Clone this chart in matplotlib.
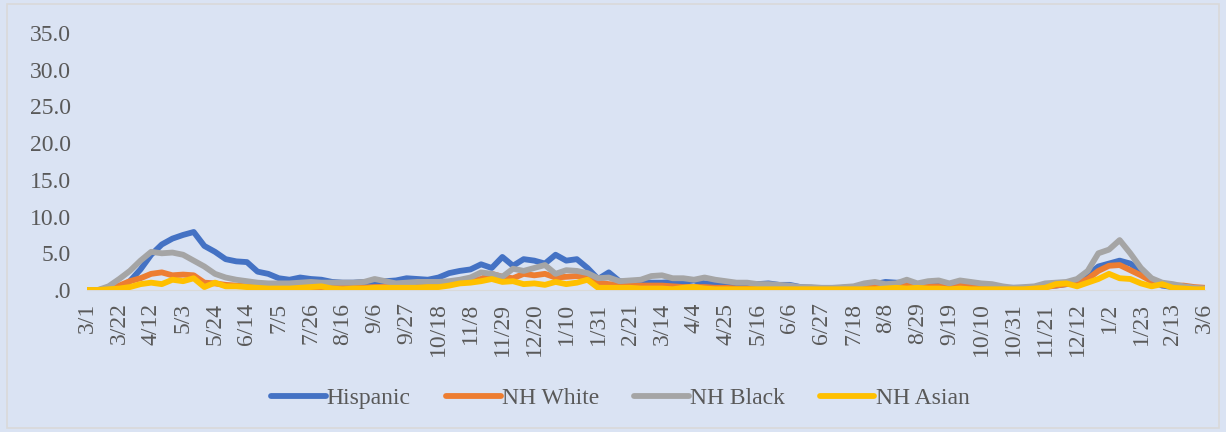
import matplotlib

matplotlib.use("Agg")
import matplotlib.pyplot as plt
import pandas as pd
from matplotlib.patches import Rectangle
from matplotlib.ticker import FuncFormatter

# Weekly readings, 3/1/2020 .. 3/6/2022 (106 weeks)
START = "2020-03-01"
N_WEEKS = 106

hispanic = [
    0, 0, 0.1, 0.3, 1.2, 2.8, 4.8, 6.2, 7.0, 7.5,
    7.9, 6.0, 5.2, 4.2, 3.9, 3.8, 2.5, 2.2, 1.6, 1.4,
    1.7, 1.5, 1.4, 1.1, 1.0, 1.0, 1.1, 1.1, 1.2, 1.3,
    1.6, 1.5, 1.4, 1.7, 2.3, 2.6, 2.8, 3.5, 3.0, 4.5,
    3.3, 4.2, 4.0, 3.6, 4.8, 4.0, 4.2, 3.0, 1.5, 2.4,
    1.2, 1.0, 1.1, 1.0, 1.0, 1.1, 1.1, 1.3, 0.9, 0.9,
    0.8, 0.8, 0.8, 0.8, 0.9, 0.7, 0.7, 0.4, 0.3, 0.2,
    0.2, 0.3, 0.4, 0.6, 0.8, 1.1, 1.0, 1.0, 0.8, 0.9,
    0.9, 0.8, 1.0, 1.0, 0.6, 0.4, 0.3, 0.3, 0.3, 0.4,
    0.6, 0.6, 0.8, 1.0, 2.0, 3.2, 3.6, 4.0, 3.6, 2.6,
    1.2, 0.6, 0.4, 0.3, 0.2, 0.1,
]
nh_white = [
    0, 0, 0.2, 0.6, 1.2, 1.6, 2.2, 2.4, 2.0, 2.1,
    2.0, 1.0, 0.9, 0.7, 0.6, 0.5, 0.4, 0.4, 0.3, 0.3,
    0.3, 0.3, 0.3, 0.3, 0.3, 0.3, 0.3, 0.4, 0.4, 0.4,
    0.5, 0.5, 0.5, 0.6, 0.8, 1.0, 1.3, 1.5, 2.2, 1.8,
    1.6, 2.2, 2.0, 2.2, 1.7, 1.8, 1.9, 1.8, 1.0, 0.8,
    0.7, 0.6, 0.6, 0.6, 0.6, 0.5, 0.4, 0.4, 0.4, 0.3,
    0.3, 0.2, 0.2, 0.2, 0.2, 0.2, 0.1, 0.1, 0.1, 0.1,
    0.1, 0.1, 0.2, 0.3, 0.4, 0.5, 0.5, 0.6, 0.7, 0.5,
    0.5, 0.4, 0.6, 0.4, 0.3, 0.3, 0.2, 0.2, 0.2, 0.3,
    0.4, 0.6, 0.8, 0.9, 1.5, 2.6, 3.3, 3.4, 2.7, 2.0,
    1.2, 0.7, 0.6, 0.6, 0.4, 0.3,
]
nh_black = [
    0, 0, 0.5, 1.5, 2.6, 4.0, 5.2, 5.0, 5.1, 4.8,
    4.0, 3.2, 2.2, 1.7, 1.4, 1.2, 1.0, 0.9, 0.9, 0.9,
    1.0, 1.1, 1.0, 1.0, 1.0, 1.0, 1.1, 1.5, 1.2, 0.9,
    1.0, 1.1, 1.1, 1.1, 1.2, 1.4, 1.7, 2.4, 2.2, 1.8,
    2.9, 2.6, 3.0, 3.4, 2.2, 2.7, 2.6, 2.3, 1.6, 1.7,
    1.2, 1.3, 1.4, 1.9, 2.0, 1.6, 1.6, 1.4, 1.7, 1.4,
    1.2, 1.0, 1.0, 0.8, 0.8, 0.7, 0.6, 0.4, 0.4, 0.3,
    0.3, 0.4, 0.5, 0.9, 1.1, 0.8, 0.9, 1.4, 0.9, 1.2,
    1.3, 0.9, 1.3, 1.1, 0.9, 0.8, 0.5, 0.3, 0.4, 0.5,
    0.9, 1.0, 1.1, 1.5, 2.6, 5.0, 5.5, 6.8, 5.0, 3.0,
    1.6, 1.0, 0.8, 0.5, 0.3, 0.2,
]
nh_asian = [
    0, 0, 0.1, 0.2, 0.4, 0.8, 1.0, 0.8, 1.4, 1.2,
    1.6, 0.4, 1.0, 0.5, 0.5, 0.4, 0.3, 0.2, 0.2, 0.2,
    0.3, 0.4, 0.5, 0.2, 0.1, 0.2, 0.2, 0.3, 0.3, 0.3,
    0.3, 0.3, 0.4, 0.4, 0.6, 0.9, 1.0, 1.2, 1.5, 1.1,
    1.2, 0.8, 0.9, 0.7, 1.1, 0.8, 1.0, 1.4, 0.3, 0.3,
    0.3, 0.3, 0.2, 0.2, 0.2, 0.1, 0.3, 0.4, 0.2, 0.1,
    0.1, 0.1, 0.1, 0.1, 0.1, 0.1, 0.1, 0.1, 0.1, 0.1,
    0.1, 0.1, 0.1, 0.1, 0.1, 0.2, 0.3, 0.2, 0.3, 0.2,
    0.2, 0.1, 0.2, 0.1, 0.1, 0.1, 0.1, 0.1, 0.1, 0.2,
    0.3, 0.8, 0.9, 0.5, 1.0, 1.5, 2.2, 1.6, 1.5, 0.9,
    0.5, 0.8, 0.3, 0.2, 0.1, 0.1,
]

series_names = ["Hispanic", "NH White", "NH Black", "NH Asian"]
series_values = [hispanic, nh_white, nh_black, nh_asian]
series_colors = ["#4472C4", "#ED7D31", "#A5A5A5", "#FFC000"]

# axis labels every three weeks
tick_labels = [
    "3/1", "3/22", "4/12", "5/3", "5/24", "6/14", "7/5", "7/26", "8/16",
    "9/6", "9/27", "10/18", "11/8", "11/29", "12/20", "1/10", "1/31",
    "2/21", "3/14", "4/4", "4/25", "5/16", "6/6", "6/27", "7/18", "8/8",
    "8/29", "9/19", "10/10", "10/31", "11/21", "12/12", "1/2", "1/23",
    "2/13", "3/6",
]

BG = "#DAE3F3"
TEXT = "#595959"
LINE_GRAY = "#D9D9D9"
LW = 4.2

plt.rcParams["font.family"] = ["Liberation Serif", "DejaVu Serif"]

dates = pd.date_range(START, periods=N_WEEKS, freq="7D")
tick_dates = pd.date_range(START, periods=len(tick_labels), freq="21D")

fig = plt.figure(figsize=(12.26, 4.32), dpi=100, facecolor=BG)
ax = fig.add_axes([0.0712, 0.3287, 0.9115, 0.5949])
ax.set_facecolor(BG)

for name, vals, color in zip(series_names, series_values, series_colors):
    ax.plot(dates, vals, color=color, linewidth=LW, label=name,
            solid_capstyle="round", solid_joinstyle="round")

ax.set_xlim(dates[0], dates[-1])
ax.set_ylim(0, 35)
ax.set_yticks(range(0, 40, 5))
ax.yaxis.set_major_formatter(
    FuncFormatter(lambda v, _: ".0" if v == 0 else f"{v:.1f}"))
ax.set_xticks(tick_dates)
ax.set_xticklabels(tick_labels, rotation=90)
ax.tick_params(axis="both", length=0, labelsize=17, colors=TEXT)
ax.tick_params(axis="x", pad=9)
ax.tick_params(axis="y", pad=12)

for side in ("top", "right", "left"):
    ax.spines[side].set_visible(False)
ax.spines["bottom"].set_color(LINE_GRAY)
ax.spines["bottom"].set_zorder(0)

leg = fig.legend(loc="center", bbox_to_anchor=(0.506, 0.077), ncol=4,
                 frameon=False, fontsize=17, handlelength=2.3,
                 handletextpad=0.05, columnspacing=1.5)
for h in leg.get_lines():
    h.set_linewidth(LW)
for t in leg.get_texts():
    t.set_color(TEXT)

# thin border around the chart area
fig.patches.append(Rectangle((7 / 1226, 4 / 432), 1212 / 1226, 424 / 432,
                             transform=fig.transFigure, fill=False,
                             edgecolor=LINE_GRAY, linewidth=1.2))

fig.savefig("out.png", dpi=100, facecolor=BG)
